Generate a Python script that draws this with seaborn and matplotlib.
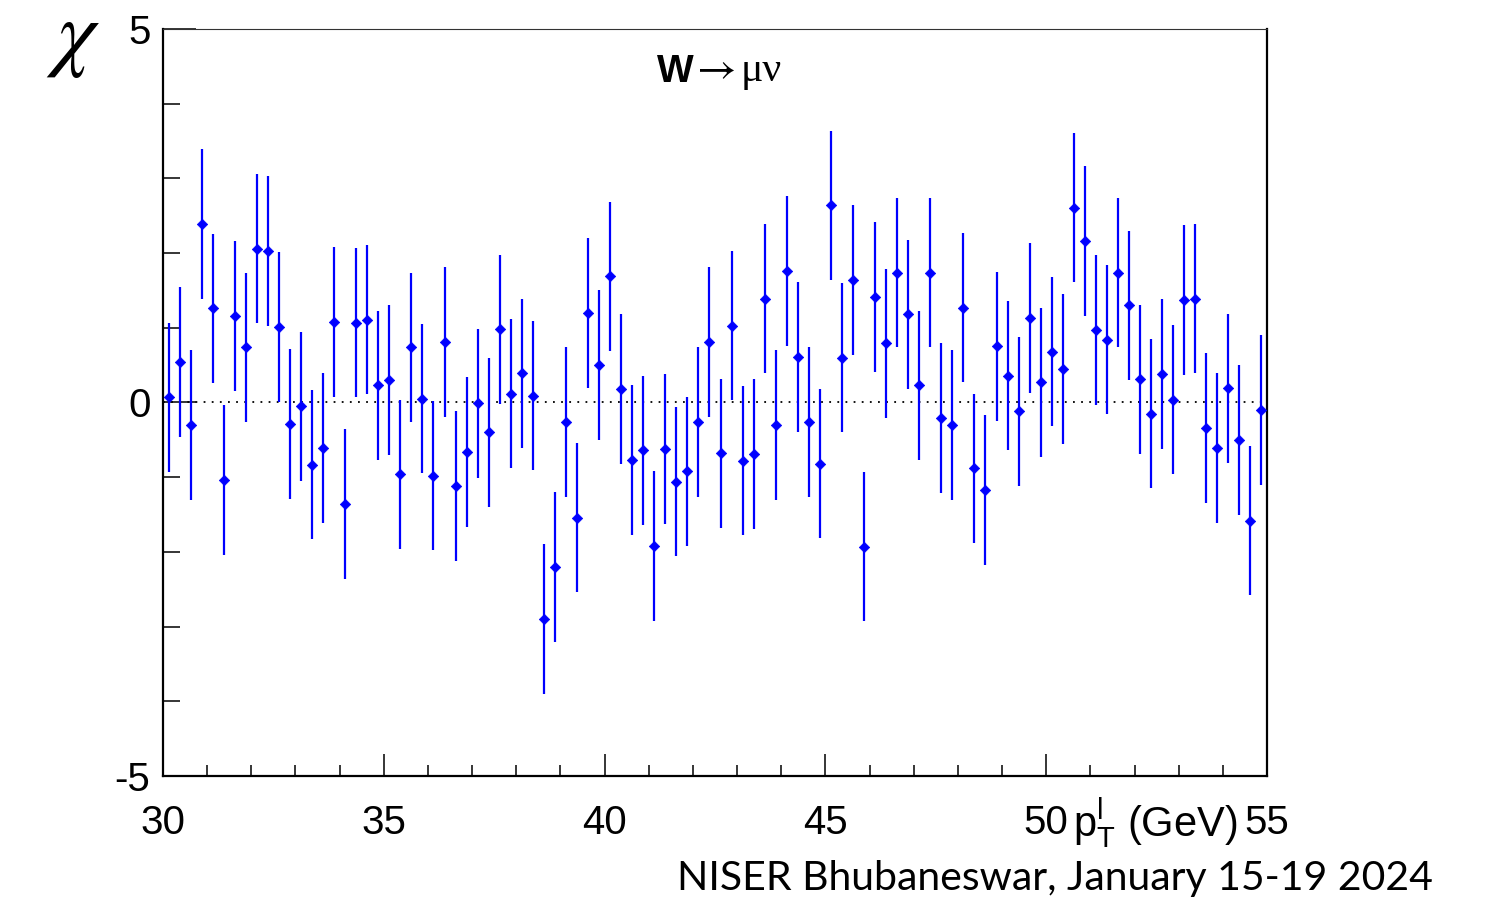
import numpy as np
import pandas as pd
import matplotlib
matplotlib.use("Agg")
import matplotlib.pyplot as plt
import seaborn as sns
from matplotlib.ticker import MultipleLocator, FixedLocator

# ---- data -------------------------------------------------------------
x_lo, x_hi, bin_width = 30.0, 55.0, 0.25
pull = [
    0.07, 0.54, -0.30, 2.39, 1.26, -1.04, 1.16, 0.74, 2.06, 2.03,
    1.01, -0.29, -0.05, -0.83, -0.61, 1.08, -1.36, 1.07, 1.11, 0.23,
    0.30, -0.96, 0.74, 0.05, -0.98, 0.81, -1.12, -0.66, -0.01, -0.40,
    0.98, 0.12, 0.39, 0.09, -2.90, -2.20, -0.26, -1.54, 1.20, 0.50,
    1.69, 0.18, -0.77, -0.64, -1.92, -0.62, -1.06, -0.92, -0.26, 0.81,
    -0.68, 1.03, -0.78, -0.69, 1.39, -0.30, 1.76, 0.61, -0.26, -0.82,
    2.64, 0.60, 1.64, -1.93, 1.41, 0.79, 1.74, 1.18, 0.23, 1.74,
    -0.21, -0.30, 1.27, -0.88, -1.17, 0.75, 0.36, -0.12, 1.13, 0.27,
    0.68, 0.45, 2.61, 2.16, 0.97, 0.84, 1.74, 1.30, 0.31, -0.15,
    0.38, 0.04, 1.37, 1.39, -0.34, -0.61, 0.19, -0.50, -1.58, -0.10,
]
pull_err = [1.0] * len(pull)  # pulls: unit uncertainty
x_ticks = [30, 35, 40, 45, 50, 55]
y_ticks = [-5, 0, 5]
title_w = "W"
title_arrow = "\u2192"
title_nu = "\u03bc\u03bd"
x_title = r"$\mathrm{p}^{\mathrm{l}}_{\mathrm{T}}$ (GeV)"
y_title = r"$\chi$"
footer = "NISER Bhubaneswar, January 15-19 2024"

centers = np.arange(x_lo + bin_width / 2, x_hi, bin_width)
df = pd.DataFrame({"pt": centers, "pull": pull, "err": pull_err})

# ---- style ------------------------------------------------------------
sns.set_theme(style="ticks")
plt.rcParams["font.family"] = ["Liberation Sans", "DejaVu Sans"]
plt.rcParams["mathtext.fontset"] = "custom"
plt.rcParams["mathtext.rm"] = "Liberation Sans"
plt.rcParams["mathtext.it"] = "Liberation Sans"
for key in ["text.color", "axes.labelcolor", "xtick.color", "ytick.color",
            "axes.edgecolor"]:
    plt.rcParams[key] = "black"

W, H, DPI = 1485, 916, 100
fig = plt.figure(figsize=(W / DPI, H / DPI), dpi=DPI)
fig.patch.set_facecolor("white")
ax = fig.add_axes([163 / W, 1 - 776 / H, (1267 - 163) / W, (776 - 29) / H])
ax.set_facecolor("white")

blue = (0, 0, 1)
ax.errorbar(df["pt"], df["pull"], yerr=df["err"], fmt="none",
            ecolor=blue, elinewidth=1.6, capsize=0, zorder=3)
sns.scatterplot(data=df, x="pt", y="pull", ax=ax, marker="D", s=28,
                color=blue, edgecolor=blue, linewidth=0.5, zorder=4,
                legend=False)

ax.axhline(0, color="black", lw=1.3, ls=(0, (1, 3.5)), zorder=2)

ax.set_xlim(x_lo, x_hi)
ax.set_ylim(-5, 5)
ax.set_xlabel("")
ax.set_ylabel("")

ax.xaxis.set_major_locator(FixedLocator(x_ticks))
ax.xaxis.set_minor_locator(MultipleLocator(1))
ax.yaxis.set_major_locator(FixedLocator(y_ticks))
ax.yaxis.set_minor_locator(MultipleLocator(1))
ax.set_xticklabels([str(t) for t in x_ticks])
ax.set_yticklabels([str(t) for t in y_ticks])

ax.tick_params(axis="x", which="major", direction="in", length=16,
               width=1.1, labelsize=29, pad=20, top=False,
               color="black", labelcolor="black")
ax.tick_params(axis="x", which="minor", direction="in", length=8,
               width=1.1, top=False, color="black")
ax.tick_params(axis="y", which="major", direction="in", length=24,
               width=1.1, labelsize=29, pad=9, right=False,
               color="black", labelcolor="black")
ax.tick_params(axis="y", which="minor", direction="in", length=12,
               width=1.1, right=False, color="black")

for side in ["left", "bottom", "right"]:
    ax.spines[side].set_visible(True)
    ax.spines[side].set_linewidth(1.6)
    ax.spines[side].set_color("black")
ax.spines["top"].set_visible(True)
ax.spines["top"].set_linewidth(0.8)
ax.spines["top"].set_color("#333333")

# ---- texts ------------------------------------------------------------
fig.text(46 / W, 1 - 60 / H, y_title, fontsize=62, ha="left", va="baseline",
         math_fontfamily="stix", color="black")
fig.text(657 / W, 1 - 82 / H, title_w, fontsize=28, fontweight="bold",
         ha="left", va="baseline", color="black",
         family=["Liberation Sans", "DejaVu Sans"])
fig.text(697 / W, 1 - 81 / H, title_arrow, fontsize=31, ha="left",
         va="baseline", color="black",
         family=["STIXGeneral", "DejaVu Serif"])
fig.text(741 / W, 1 - 81 / H, title_nu, fontsize=30, ha="left",
         va="baseline", color="black",
         family=["Liberation Serif", "DejaVu Serif"])
fig.text(1237 / W, 1 - 836 / H, x_title, fontsize=30, ha="right",
         va="baseline", color="black")
fig.text(1433 / W, 1 - 890 / H, footer, fontsize=29.5, ha="right",
         va="baseline", color="black", family=["Lato", "DejaVu Sans"])

fig.savefig("out.png", dpi=DPI, facecolor="white")
